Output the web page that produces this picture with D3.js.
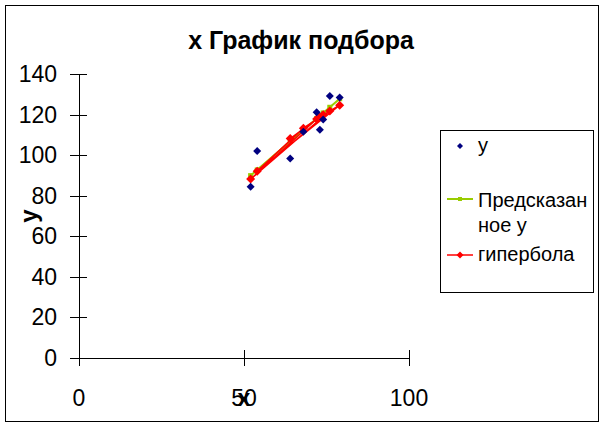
<!DOCTYPE html>
<html lang="ru">
<head>
<meta charset="utf-8">
<title>x График подбора</title>
<style>
  body { margin: 0; background: #fff; }
  svg text { font-family: Arial, "Liberation Sans", sans-serif; fill: #000; }
  .axis path, .axis line { stroke: #000; stroke-width: 1px; shape-rendering: crispEdges; }
</style>
</head>
<body>
<svg id="chart" width="605" height="428"></svg>
<script src="https://d3js.org/d3.v7.min.js"></script>
<script>
// наблюдения (в порядке исходной таблицы)
var xs      = [64, 72, 52, 76, 68, 54, 79, 73, 74];
var yObs    = [98.4, 121.2, 84.4, 129.2, 111.5, 102.0, 128.4, 112.5, 117.6];
var yPred   = [106.8, 118.0, 89.9, 123.6, 112.4, 92.7, 127.8, 119.4, 120.8];
var yHyper  = [108.2, 117.8, 88.2, 121.8, 113.3, 92.1, 124.6, 118.8, 119.9];

var xTicks = [0, 50, 100];
var yTicks = [0, 20, 40, 60, 80, 100, 120, 140];

var title = "x График подбора";
var legendNames = ["y", "Предсказанное y", "гипербола"];
var colors = ["#000080", "#99CC00", "#FF0000"];

var svg = d3.select("#chart");

// ромб-маркер как в Excel
function diamond(r) {
  var p = d3.path();
  p.moveTo(0, -r); p.lineTo(r, 0); p.lineTo(0, r); p.lineTo(-r, 0); p.closePath();
  return p.toString();
}

// рамка диаграммы
svg.append("rect")
  .attr("x", 5.5).attr("y", 5.5)
  .attr("width", 593).attr("height", 416)
  .attr("fill", "#fff").attr("stroke", "#000");

var x = d3.scaleLinear().domain([0, 100]).range([79, 409]);
var y = d3.scaleLinear().domain([0, 140]).range([358, 74]);

// оси
var gx = svg.append("g").attr("class", "axis")
  .attr("transform", "translate(0," + y(0) + ")")
  .call(d3.axisBottom(x).tickValues(xTicks).tickSize(8).tickFormat(""));
gx.selectAll(".tick line").attr("y1", -8).attr("y2", 8);

var gy = svg.append("g").attr("class", "axis")
  .attr("transform", "translate(" + x(0) + ",0)")
  .call(d3.axisLeft(y).tickValues(yTicks).tickSize(9).tickFormat(""));
gy.selectAll(".tick line").attr("x1", -9).attr("x2", 8);

// подписи делений
svg.selectAll(".ylab").data(yTicks).enter().append("text")
  .attr("class", "ylab")
  .attr("x", 57).attr("y", function(d) { return y(d) + 8; })
  .attr("text-anchor", "end").style("font-size", "23px")
  .text(function(d) { return d; });

svg.selectAll(".xlab").data(xTicks).enter().append("text")
  .attr("class", "xlab")
  .attr("x", function(d) { return x(d); }).attr("y", 406)
  .attr("text-anchor", "middle").style("font-size", "23px")
  .text(function(d) { return d; });

// заголовки
svg.append("text")
  .attr("x", 301).attr("y", 49)
  .attr("text-anchor", "middle")
  .style("font-size", "25px").style("font-weight", "bold")
  .text(title);

// подпись оси x в оригинале наезжает на «50»
svg.append("text")
  .attr("x", x(50)).attr("y", 406)
  .attr("text-anchor", "middle")
  .style("font-size", "23px").style("font-weight", "bold")
  .text("x");

svg.append("text")
  .attr("transform", "translate(37," + y(70) + ") rotate(-90)")
  .attr("text-anchor", "middle")
  .style("font-size", "24px").style("font-weight", "bold")
  .text("y");

// линии рядов (в порядке данных)
var rows = xs.map(function(d, i) {
  return { x: d, obs: yObs[i], pred: yPred[i], hyp: yHyper[i] };
});

svg.append("path").datum(rows)
  .attr("fill", "none").attr("stroke", colors[1]).attr("stroke-width", 2)
  .attr("d", d3.line().x(function(d) { return x(d.x); }).y(function(d) { return y(d.pred); }));

svg.selectAll(".pred").data(rows).enter().append("rect")
  .attr("class", "pred")
  .attr("x", function(d) { return x(d.x) - 2.5; })
  .attr("y", function(d) { return y(d.pred) - 2.5; })
  .attr("width", 5).attr("height", 5)
  .attr("fill", colors[1]);

svg.append("path").datum(rows)
  .attr("fill", "none").attr("stroke", colors[2]).attr("stroke-width", 1.5)
  .attr("d", d3.line().x(function(d) { return x(d.x); }).y(function(d) { return y(d.hyp); }));

svg.selectAll(".hyp").data(rows).enter().append("path")
  .attr("class", "hyp")
  .attr("transform", function(d) { return "translate(" + x(d.x) + "," + y(d.hyp) + ")"; })
  .attr("d", diamond(4.5))
  .attr("fill", colors[2]);

svg.selectAll(".obs").data(rows).enter().append("path")
  .attr("class", "obs")
  .attr("transform", function(d) { return "translate(" + x(d.x) + "," + y(d.obs) + ")"; })
  .attr("d", diamond(4))
  .attr("fill", colors[0]);

// легенда
var lg = svg.append("g");
lg.append("rect")
  .attr("x", 440.5).attr("y", 130.5)
  .attr("width", 153).attr("height", 162)
  .attr("fill", "#fff").attr("stroke", "#000");

lg.append("path")
  .attr("transform", "translate(460,146)")
  .attr("d", diamond(3))
  .attr("fill", colors[0]);
lg.append("text").attr("x", 478).attr("y", 152)
  .style("font-size", "20px").text(legendNames[0]);

lg.append("line").attr("x1", 447).attr("x2", 473).attr("y1", 199).attr("y2", 199)
  .attr("stroke", colors[1]).attr("stroke-width", 2);
lg.append("rect").attr("x", 458).attr("y", 197).attr("width", 4).attr("height", 4)
  .attr("fill", colors[1]);
var t2 = lg.append("text").attr("x", 478).attr("y", 207).style("font-size", "20px");
t2.append("tspan").attr("x", 478).text("Предсказан");
t2.append("tspan").attr("x", 478).attr("dy", 25).text("ное y");

lg.append("line").attr("x1", 447).attr("x2", 473).attr("y1", 255).attr("y2", 255)
  .attr("stroke", colors[2]).attr("stroke-width", 1.5);
lg.append("path")
  .attr("transform", "translate(460,255)")
  .attr("d", diamond(3.5))
  .attr("fill", colors[2]);
lg.append("text").attr("x", 478).attr("y", 261)
  .style("font-size", "20px").text(legendNames[2]);
</script>
</body>
</html>
